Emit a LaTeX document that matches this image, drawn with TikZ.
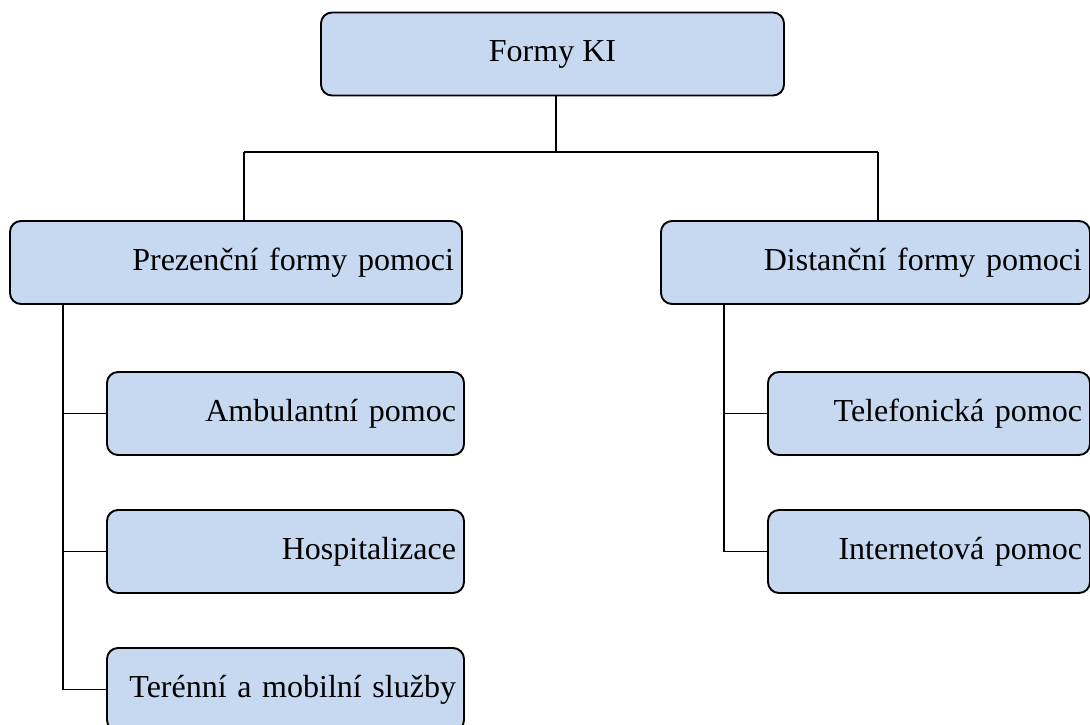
\documentclass[tikz,border=0pt]{standalone}
\usepackage{fontspec}
\setmainfont{Liberation Serif}
\definecolor{boxfill}{HTML}{C6D9F0}
\tikzset{
  box/.style={draw=black, line width=1.9pt, fill=boxfill, rounded corners=11pt,
    minimum height=83pt, inner xsep=8pt, inner ysep=0pt,
    font=\fontsize{32}{38}\selectfont},
  boxr/.style={box, align=right},
  conn/.style={draw=black, line width=1.6pt}
}
\begin{document}
\begin{tikzpicture}[x=1pt,y=-1pt]
\useasboundingbox (0,0) rectangle (1090,724);
\clip (0,0) rectangle (1090,724);
\node[box, minimum width=463pt, align=center] (top) at (552.5,54) {Formy KI};
\node[boxr, minimum width=452pt, text width=436pt] (L) at (236,262.5) {Prezenční formy pomoci};
\node[boxr, minimum width=427pt, text width=413pt] (R) at (875.5,262.5) {Distanční formy pomoci};
\node[boxr, minimum width=357pt, text width=341pt] (L1) at (285.5,413.5) {Ambulantní pomoc};
\node[boxr, minimum width=357pt, text width=341pt] (L2) at (285.5,551.5) {Hospitalizace};
\node[boxr, minimum width=357pt, text width=341pt] (L3) at (285.5,689.5) {Terénní a mobilní služby};
\node[boxr, minimum width=320pt, text width=306pt] (R1) at (929,413.5) {Telefonická pomoc};
\node[boxr, minimum width=320pt, text width=306pt] (R2) at (929,551.5) {Internetová pomoc};
\coordinate (bus) at (556,152);
\coordinate (lb) at (244,0);
\coordinate (rb) at (878,0);
\coordinate (lt) at (63,0);
\coordinate (rt) at (724,0);
\draw[conn] (top.south -| bus) -- (bus);
\draw[conn] (bus -| lb) -- (bus -| rb);
\draw[conn] (bus -| lb) -- (L.north -| lb);
\draw[conn] (bus -| rb) -- (R.north -| rb);
\draw[conn] (L.south -| lt) |- (L3.west);
\draw[conn] (L1.west) -- (L1.west -| lt);
\draw[conn] (L2.west) -- (L2.west -| lt);
\draw[conn] (R.south -| rt) |- (R2.west);
\draw[conn] (R1.west) -- (R1.west -| rt);
\end{tikzpicture}
\end{document}
